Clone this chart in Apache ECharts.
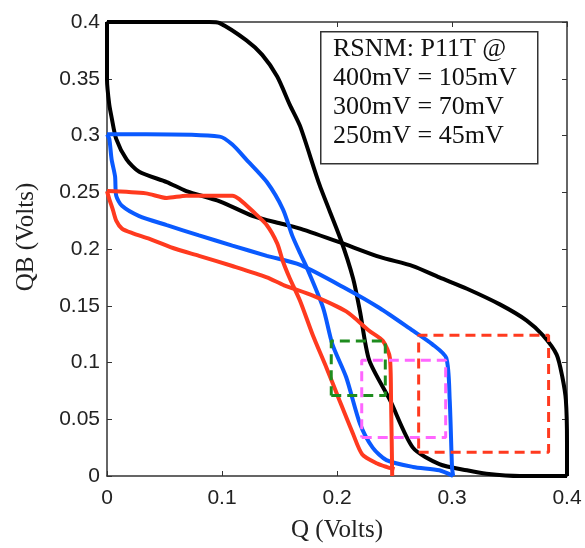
<!DOCTYPE html>
<html><head><meta charset="utf-8">
<script src="https://cdn.jsdelivr.net/npm/echarts@6/dist/echarts.min.js"></script>
<style>html,body{margin:0;padding:0;background:#fff}#c{width:585px;height:548px}</style>
</head><body><div id="c"></div>
<script>
// 400 mV butterfly (black)
const black1 = [[0,0.4],[0.089,0.4],[0.098,0.399],[0.121,0.384],[0.135,0.371],[0.148,0.352],[0.159,0.327],[0.168,0.308],[0.185,0.256],[0.203,0.209],[0.214,0.174],[0.220,0.145],[0.228,0.102],[0.246,0.067],[0.266,0.025],[0.289,0.0105],[0.313,0.005],[0.330,0.002],[0.359,0],[0.4,0]];
const black2 = [[0,0.4],[0,0.349],[0.002,0.327],[0.004,0.316],[0.008,0.297],[0.017,0.279],[0.028,0.268],[0.052,0.259],[0.069,0.251],[0.098,0.242],[0.127,0.229],[0.153,0.222],[0.168,0.218],[0.202,0.206],[0.237,0.193],[0.266,0.185],[0.289,0.175],[0.313,0.165],[0.342,0.151],[0.365,0.137],[0.379,0.124],[0.391,0.107],[0.396,0.087],[0.399,0.067],[0.4,0.03],[0.4,0]];
// 300 mV butterfly (blue)
const blue1 = [[0,0.301],[0.034,0.301],[0.098,0.299],[0.109,0.292],[0.121,0.279],[0.139,0.259],[0.153,0.235],[0.161,0.212],[0.168,0.196],[0.174,0.183],[0.188,0.148],[0.196,0.116],[0.208,0.087],[0.220,0.046],[0.231,0.025],[0.243,0.014],[0.266,0.008],[0.289,0.005],[0.301,0]];
const blue2 = [[0,0.301],[0.002,0.297],[0.004,0.279],[0.007,0.264],[0.008,0.247],[0.013,0.238],[0.028,0.229],[0.052,0.221],[0.080,0.212],[0.109,0.203],[0.139,0.194],[0.168,0.186],[0.208,0.165],[0.237,0.148],[0.266,0.128],[0.283,0.116],[0.295,0.104],[0.298,0.067],[0.300,0.008],[0.301,0]];
// 250 mV butterfly (red)
const red1 = [[0,0.251],[0.034,0.249],[0.052,0.245],[0.069,0.247],[0.109,0.247],[0.115,0.244],[0.127,0.233],[0.139,0.221],[0.148,0.205],[0.153,0.189],[0.159,0.174],[0.168,0.154],[0.179,0.124],[0.191,0.095],[0.202,0.067],[0.214,0.037],[0.222,0.019],[0.235,0.011],[0.243,0.008],[0.250,0.006]];
const red2 = [[0,0.251],[0.002,0.244],[0.005,0.235],[0.008,0.225],[0.013,0.218],[0.022,0.214],[0.037,0.209],[0.060,0.200],[0.080,0.194],[0.109,0.185],[0.139,0.175],[0.154,0.168],[0.179,0.159],[0.208,0.145],[0.228,0.128],[0.240,0.119],[0.246,0.104],[0.247,0.067],[0.248,0]];
// noise-margin squares [xMin, xMax, yMin, yMax]
const boxGreen = [0.195, 0.242, 0.071, 0.119];
const boxMagenta = [0.2215, 0.2945, 0.034, 0.102];
const boxRed = [0.271, 0.384, 0.021, 0.124];
const xTicks = [0, 0.1, 0.2, 0.3, 0.4];
const yTicks = [0, 0.05, 0.1, 0.15, 0.2, 0.25, 0.3, 0.35, 0.4];
const noteLines = ['RSNM: P11T @', '400mV = 105mV', '300mV = 70mV', '250mV = 45mV'];

function rect(b){ return [[b[0],b[2]],[b[1],b[2]],[b[1],b[3]],[b[0],b[3]],[b[0],b[2]]]; }
function curve(d, color){ return {type:'line', data:d, showSymbol:false, symbol:'none', smooth:0.25, lineStyle:{color:color, width:4}, z:5, animation:false}; }
function dashed(b, color){ return {type:'line', data:rect(b), showSymbol:false, symbol:'none', lineStyle:{color:color, width:3, type:[10,6]}, z:6, animation:false}; }

const axisCol = '#333';
const tickFont = {fontFamily:'Liberation Sans, Arial, sans-serif', fontSize:21, color:'#222'};
const chart = echarts.init(document.getElementById('c'), null, {renderer:'canvas'});
chart.setOption({
  backgroundColor:'#fff',
  animation:false,
  grid:{left:107, right:18, top:22, bottom:69},
  xAxis:[{
    type:'value', min:0, max:0.4, interval:0.1,
    axisLine:{show:true, onZero:false, lineStyle:{color:axisCol, width:1.5}},
    axisTick:{show:true, inside:true, length:5, lineStyle:{color:axisCol}},
    splitLine:{show:false},
    axisLabel:Object.assign({margin:12, formatter:v=>String(+v.toFixed(2))}, tickFont),
    name:'Q (Volts)', nameLocation:'middle', nameGap:42,
    nameTextStyle:{fontFamily:'Liberation Serif, Times New Roman, serif', fontSize:25, color:'#222'}
  },{
    type:'value', position:'top', min:0, max:0.4, interval:0.1,
    axisLine:{show:true, onZero:false, lineStyle:{color:axisCol, width:1.5}},
    axisTick:{show:true, inside:true, length:5, lineStyle:{color:axisCol}},
    axisLabel:{show:false}, splitLine:{show:false}
  }],
  yAxis:[{
    type:'value', min:0, max:0.4, interval:0.05,
    axisLine:{show:true, onZero:false, lineStyle:{color:axisCol, width:1.5}},
    axisTick:{show:true, inside:true, length:5, lineStyle:{color:axisCol}},
    splitLine:{show:false},
    axisLabel:Object.assign({margin:7, formatter:v=>String(+v.toFixed(2))}, tickFont),
    name:'QB (Volts)', nameLocation:'middle', nameGap:68, nameRotate:90,
    nameTextStyle:{fontFamily:'Liberation Serif, Times New Roman, serif', fontSize:25, color:'#222', padding:[0,0,0,24]}
  },{
    type:'value', position:'right', min:0, max:0.4, interval:0.05,
    axisLine:{show:true, onZero:false, lineStyle:{color:axisCol, width:1.5}},
    axisTick:{show:true, inside:true, length:5, lineStyle:{color:axisCol}},
    axisLabel:{show:false}, splitLine:{show:false}
  }],
  series:[
    curve(black1,'#000'), curve(black2,'#000'),
    curve(blue1,'#0a5aff'), curve(blue2,'#0a5aff'),
    curve(red1,'#ff3a1f'), curve(red2,'#ff3a1f'),
    dashed(boxGreen,'#1e8c1e'), dashed(boxMagenta,'#ff66ff'), dashed(boxRed,'#ff3a1f')
  ],
  graphic:[{
    type:'rect', left:320, top:31, z:10,
    shape:{width:217, height:132},
    style:{fill:'#fff', stroke:'#333', lineWidth:1.5}
  },{
    type:'text', left:333, top:35, z:11,
    style:{text:noteLines.join('\n'), font:'26px "Liberation Serif", "Times New Roman", serif', lineHeight:29, fill:'#111'}
  }]
});
</script></body></html>
